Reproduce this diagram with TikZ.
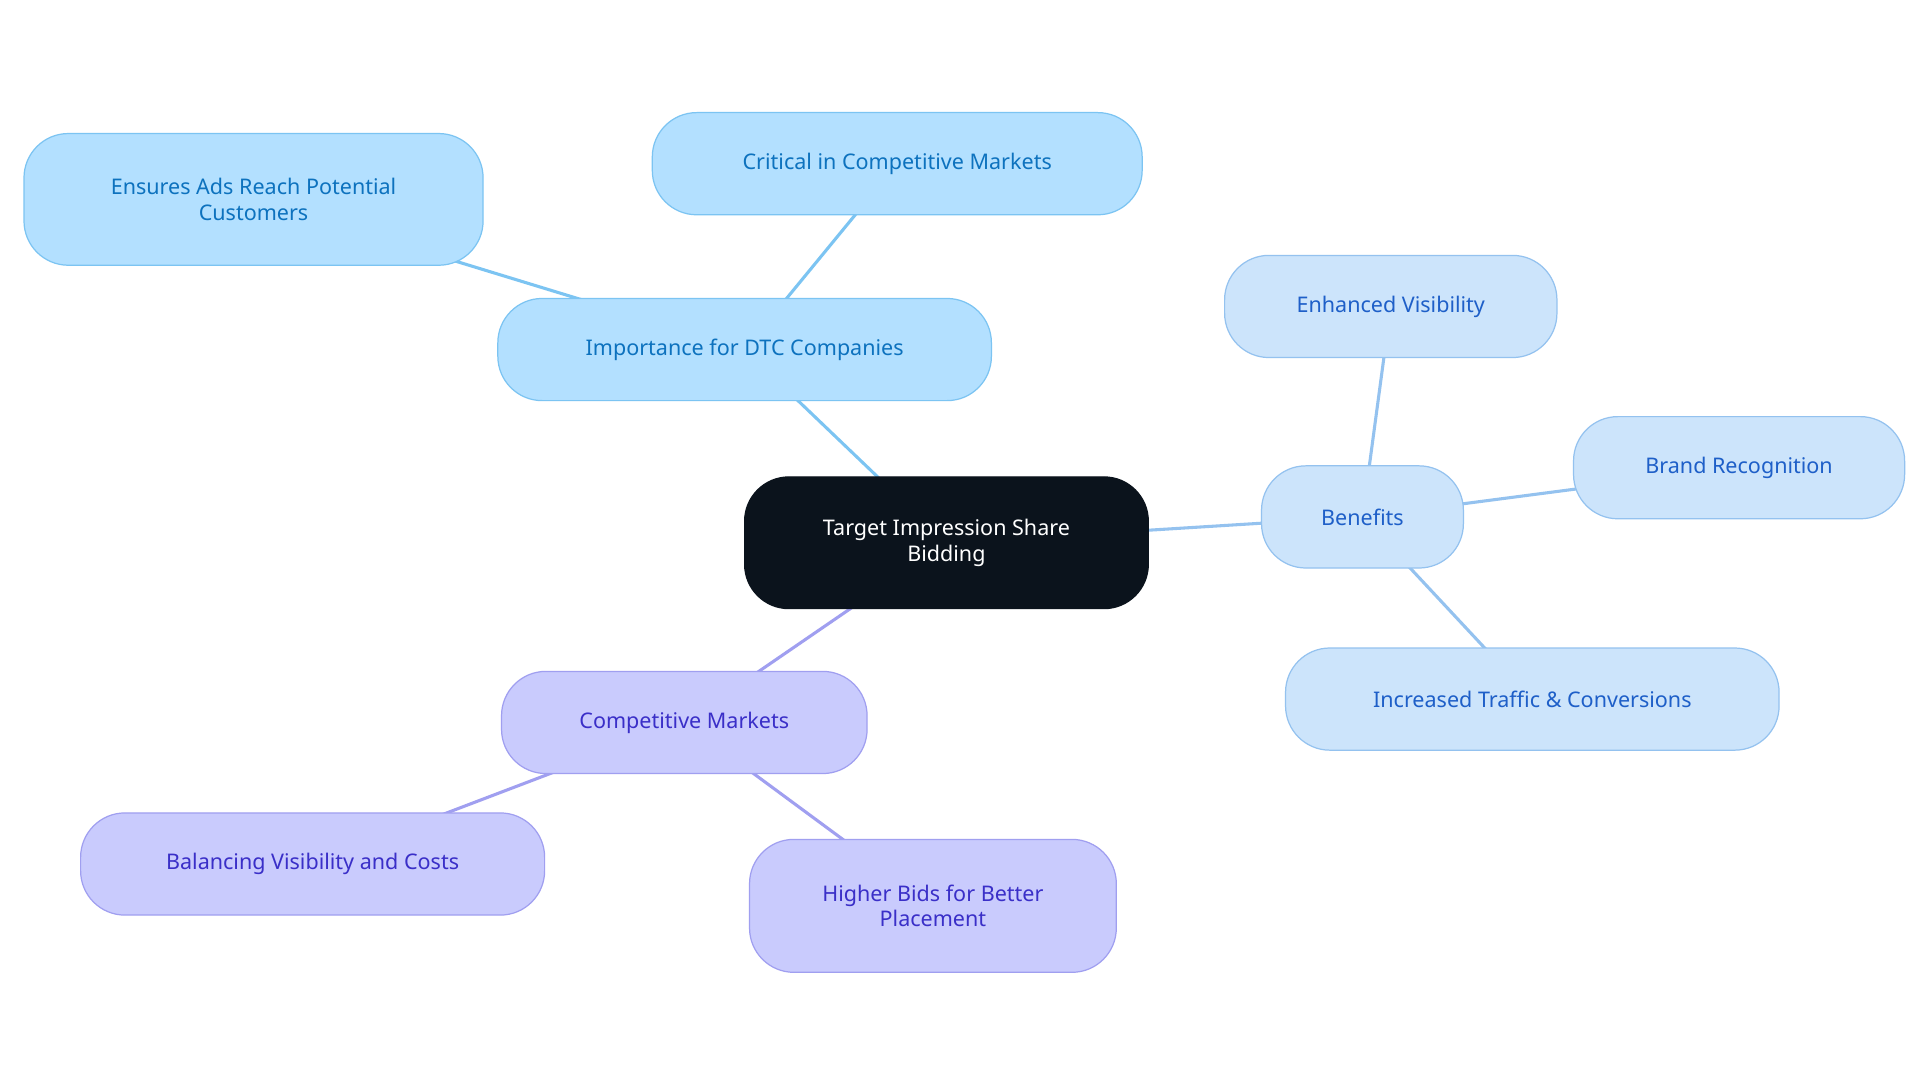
\documentclass[tikz,border=0pt]{standalone}
\usepackage{fontspec}
\setmainfont{Noto Sans}
\usetikzlibrary{backgrounds}
\definecolor{c0}{HTML}{0B131C}
\definecolor{c1f}{HTML}{B3E0FF}\definecolor{c1d}{HTML}{7CC4F2}\definecolor{c1t}{HTML}{0D72BE}
\definecolor{c2f}{HTML}{CCE4FB}\definecolor{c2d}{HTML}{94C2EF}\definecolor{c2t}{HTML}{1E5FC8}
\definecolor{c3f}{HTML}{C9CBFD}\definecolor{c3d}{HTML}{A09FF0}\definecolor{c3t}{HTML}{3A2FC8}
\begin{document}
\begin{tikzpicture}[x=1pt,y=-1pt,
 base/.style={rounded corners=36pt,draw,line width=1pt,align=center,inner sep=0pt,font=\fontsize{17.5}{21}\selectfont},
 blue/.style={base,fill=c1f,draw=c1d,text=c1t},
 lb/.style={base,fill=c2f,draw=c2d,text=c2t},
 pu/.style={base,fill=c3f,draw=c3d,text=c3t},
 e1/.style={draw=c1d,line width=2.5pt},
 e2/.style={draw=c2d,line width=2.5pt},
 e3/.style={draw=c3d,line width=2.5pt}]
\useasboundingbox (0,0) rectangle (1560,880);
\node[base,fill=c0,draw=c0,text=white,minimum width=328pt,minimum height=107pt] (c) at (769,441) {Target Impression Share\\Bidding};
\node[blue,minimum width=401pt,minimum height=83pt] (imp) at (605,284) {Importance for DTC Companies};
\node[blue,minimum width=398pt,minimum height=83pt] (cri) at (729,133) {Critical in Competitive Markets};
\node[blue,minimum width=373pt,minimum height=107pt] (ens) at (206,162) {Ensures Ads Reach Potential\\Customers};
\node[lb,minimum width=164pt,minimum height=83pt] (ben) at (1107,420) {Benefits};
\node[lb,minimum width=270pt,minimum height=83pt] (enh) at (1130,249) {Enhanced Visibility};
\node[lb,minimum width=269pt,minimum height=83pt] (bra) at (1413,380) {Brand Recognition};
\node[lb,minimum width=401pt,minimum height=83pt] (inc) at (1245,568) {Increased Traffic \& Conversions};
\node[pu,minimum width=297pt,minimum height=83pt] (com) at (556,587) {Competitive Markets};
\node[pu,minimum width=377pt,minimum height=83pt] (bal) at (254,702) {Balancing Visibility and Costs};
\node[pu,minimum width=298pt,minimum height=108pt] (hig) at (758,736) {Higher Bids for Better\\Placement};
\begin{scope}[on background layer]
\fill[white] (0,0) rectangle (1560,880);
\draw[e1] (c.center) -- (imp.center);
\draw[e1] (imp.center) -- (cri.center);
\draw[e1] (imp.center) -- (ens.center);
\draw[e2] (c.center) -- (ben.center);
\draw[e2] (ben.center) -- (enh.center);
\draw[e2] (ben.center) -- (bra.center);
\draw[e2] (ben.center) -- (inc.center);
\draw[e3] (c.center) -- (com.center);
\draw[e3] (com.center) -- (bal.center);
\draw[e3] (com.center) -- (hig.center);
\end{scope}
\end{tikzpicture}
\end{document}
